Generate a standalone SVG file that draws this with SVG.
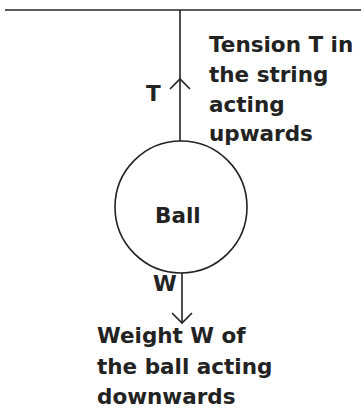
<svg xmlns="http://www.w3.org/2000/svg" width="361" height="410" viewBox="0 0 361 410">
<style>
text{font-family:"DejaVu Sans","Verdana",sans-serif;font-weight:bold;font-size:21.5px;fill:#222}
.ln{stroke:#222;fill:none;stroke-width:1.6}
</style>
<rect width="361" height="410" fill="#fff"/>
<g id="ceiling"><line class="ln" x1="5" y1="10" x2="361" y2="10" stroke-width="2.2"/></g>
<g id="ball"><circle class="ln" cx="181" cy="207" r="66"/><text x="155" y="223" font-size="17.5">Ball</text></g>
<g id="connectors">
<line class="ln" x1="180" y1="10" x2="180" y2="141"/>
<polyline class="ln" points="170,89 180,79 190,89"/>
<line class="ln" x1="182" y1="273" x2="182" y2="323"/>
<polyline class="ln" points="172,313 182,323 192,313"/>
</g>
<g id="labelT"><text x="146" y="101">T</text></g>
<g id="labelW"><text x="153" y="291">W</text></g>
<g id="tensionText">
<text x="209" y="52">Tension T in</text>
<text x="209" y="82">the string</text>
<text x="209" y="112">acting</text>
<text x="209" y="141">upwards</text>
</g>
<g id="weightText">
<text x="97" y="343">Weight W of</text>
<text x="97" y="374">the ball acting</text>
<text x="97" y="404">downwards</text>
</g>
</svg>
